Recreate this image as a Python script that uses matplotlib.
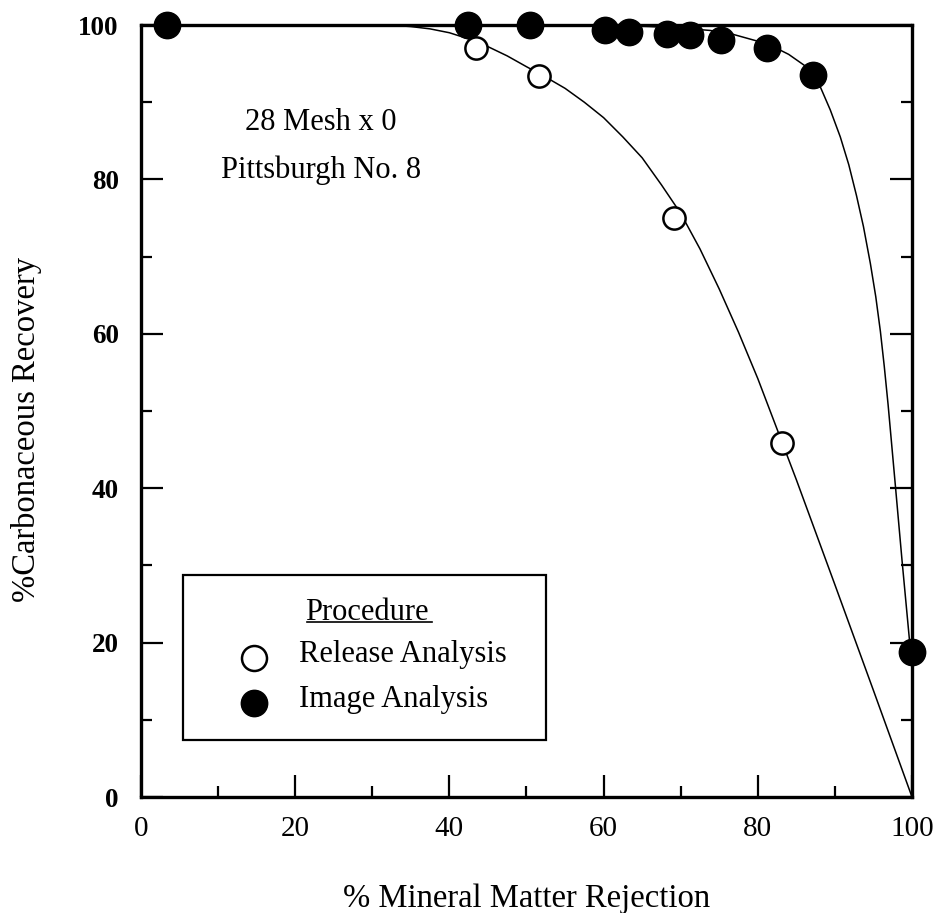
import matplotlib
matplotlib.use("Agg")
import matplotlib.pyplot as plt
from matplotlib.ticker import MultipleLocator
from matplotlib.patches import Rectangle
from matplotlib.lines import Line2D

plt.rcParams['font.family'] = ['Liberation Serif', 'DejaVu Serif']

# measured points
release_x = [43.4, 51.6, 69.1, 83.1]
release_y = [97.0, 93.4, 75.0, 45.9]

image_x = [3.4, 42.4, 50.5, 60.2, 63.3, 68.2, 71.2, 75.2, 81.2, 87.2, 100.0]
image_y = [100.0, 100.0, 100.0, 99.4, 99.1, 98.8, 98.7, 98.0, 97.0, 93.5, 18.8]

# fitted curves
release_curve_x = [0, 20, 30, 32.5, 35, 37.5, 40, 42.5, 45, 47.5, 50, 52.5, 55, 57.5,
                   60, 62.5, 65, 67.5, 70, 72.5, 75, 77.5, 80, 85, 90, 95, 100]
release_curve_y = [100, 100, 100, 99.97, 99.8, 99.5, 99.0, 98.2, 97.2, 96.0, 94.6, 93.25,
                   91.8, 90.0, 88.0, 85.5, 82.8, 79.3, 75.6, 71.0, 65.8, 60.2, 54.2,
                   41.1, 27.5, 13.8, 0]

image_curve_x = [0, 40, 60, 66, 70, 73.8, 76.4, 80, 82, 84, 86, 87.2, 88.1, 89.4, 90.7,
                 91.8, 92.8, 93.7, 94.6, 95.3, 95.9, 96.4, 96.9, 97.8, 98.7, 99.7, 100]
image_curve_y = [100, 100, 100, 99.8, 99.6, 99.3, 98.9, 97.9, 97.2, 96.2, 94.8, 93.5,
                 92.0, 89.0, 85.5, 81.9, 77.9, 73.9, 69.1, 64.8, 60.3, 55.8, 50.8,
                 40.8, 30.7, 20.0, 17.0]

fig = plt.figure(figsize=(9.41, 9.13), dpi=100)
ax = fig.add_axes([0.1498, 0.1270, 0.8194, 0.8456])

ax.plot(release_curve_x, release_curve_y, color='black', lw=1.1, zorder=3, clip_on=False)
ax.plot(image_curve_x, image_curve_y, color='black', lw=1.1, zorder=3, clip_on=False)

ax.plot(release_x, release_y, 'o', ms=16, mfc='white', mec='black', mew=1.8,
        zorder=5, clip_on=False)
ax.plot(image_x, image_y, 'o', ms=19, mfc='black', mec='black',
        zorder=5, clip_on=False)

ax.set_xlim(0, 100)
ax.set_ylim(0, 100)
ax.set_xticks(range(0, 101, 20))
ax.set_yticks(range(0, 101, 20))
ax.xaxis.set_minor_locator(MultipleLocator(10))
ax.yaxis.set_minor_locator(MultipleLocator(10))
ax.tick_params(which='both', direction='in', top=False, right=True, width=1.6, color='black')
ax.tick_params(which='major', length=16)
ax.tick_params(which='minor', length=8)
ax.tick_params(axis='x', which='major', labelsize=21, pad=14)
ax.tick_params(axis='y', which='major', labelsize=19.5, pad=16)
for lbl in ax.get_yticklabels():
    lbl.set_fontweight('bold')

for s in ax.spines.values():
    s.set_linewidth(2.4)

ax.set_xlabel('% Mineral Matter Rejection', fontsize=23.5)
ax.xaxis.set_label_coords(0.5, -0.112)
ax.set_ylabel('%Carbonaceous Recovery', fontsize=23.5)
ax.yaxis.set_label_coords(-0.149, 0.4767)
ax.yaxis.label.set_verticalalignment('center')

ax.text(23.3, 86.4, '28 Mesh x 0', ha='center', va='baseline', fontsize=22)
ax.text(23.3, 80.2, 'Pittsburgh No. 8', ha='center', va='baseline', fontsize=22)

# legend box drawn by hand
ax.add_patch(Rectangle((0.0545, 0.0738), 0.4705, 0.2138, transform=ax.transAxes,
                       fill=False, edgecolor='black', lw=1.6, zorder=6))
ax.text(0.293, 0.2293, 'Procedure', transform=ax.transAxes, ha='center',
        va='baseline', fontsize=22, zorder=7)
ax.add_line(Line2D([0.2156, 0.3777], [0.2267, 0.2267], transform=ax.transAxes,
                   color='black', lw=1.2, zorder=7))
ax.add_line(Line2D([0.1466], [0.180], transform=ax.transAxes, marker='o', ms=18,
                   mfc='white', mec='black', mew=1.8, zorder=7))
ax.add_line(Line2D([0.1466], [0.1218], transform=ax.transAxes, marker='o', ms=19,
                   mfc='black', mec='black', zorder=7))
ax.text(0.205, 0.1749, 'Release Analysis', transform=ax.transAxes, va='baseline',
        fontsize=22, zorder=7)
ax.text(0.205, 0.1166, 'Image Analysis', transform=ax.transAxes, va='baseline',
        fontsize=22, zorder=7)

fig.savefig('out.png', dpi=100)
